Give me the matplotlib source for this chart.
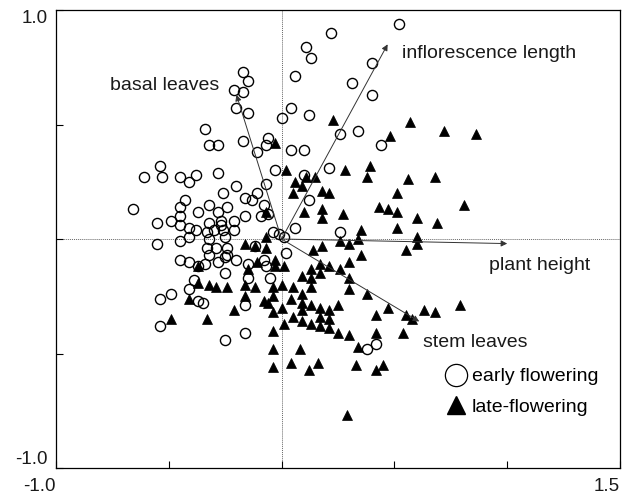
import matplotlib
matplotlib.use("Agg")
import matplotlib.pyplot as plt
from matplotlib.lines import Line2D

plt.rcParams['font.family'] = ['Liberation Sans', 'DejaVu Sans']

# early flowering plants (open circles), PCA scores
early_x = [0.22, 0.11, 0.13, 0.06, -0.17, -0.15, -0.21, -0.17, -0.20, -0.15, 0.04, 0.00, 0.12,
           -0.17, -0.06, -0.07, -0.11, 0.04, 0.10, 0.52, 0.40, 0.31, 0.40, 0.26, 0.34, 0.44,
           -0.34, -0.32, -0.28, -0.54, -0.61, -0.53, -0.45, -0.38, -0.41, -0.28, -0.26, -0.43,
           -0.45, -0.32, -0.37, -0.28, -0.66, -0.45, -0.49, -0.55, -0.32, -0.27, -0.41, -0.45,
           -0.38, -0.33, -0.30, -0.26, -0.55, -0.45, -0.41, -0.32, -0.33, -0.29, -0.32, -0.45,
           -0.41, -0.34, -0.28, -0.37, -0.39, -0.25, -0.03, 0.10, 0.21, -0.20, -0.07, -0.11,
           -0.16, -0.13, 0.12, -0.08, -0.24, -0.16, -0.09, -0.06, -0.21, -0.27, 0.06, -0.21,
           -0.04, -0.01, 0.01, -0.25, -0.12, -0.24, 0.02, -0.24, -0.20, -0.25, -0.08, -0.15,
           -0.07, -0.05, -0.15, 0.26, -0.49, -0.54, -0.41, -0.37, -0.35, -0.54, -0.25, -0.16,
           -0.16, 0.38, 0.42]
early_y = [0.90, 0.84, 0.79, 0.71, 0.73, 0.69, 0.65, 0.64, 0.57, 0.55, 0.57, 0.53, 0.54,
           0.43, 0.44, 0.41, 0.38, 0.39, 0.39, 0.94, 0.77, 0.68, 0.63, 0.46, 0.47, 0.41,
           0.48, 0.41, 0.41, 0.32, 0.27, 0.27, 0.27, 0.28, 0.25, 0.29, 0.20, 0.17,
           0.14, 0.15, 0.12, 0.12, 0.13, 0.10, 0.08, 0.07, 0.07, 0.08, 0.05, 0.06,
           0.04, 0.03, 0.04, 0.04, -0.02, -0.01, 0.01, 0.00, -0.04, -0.04, -0.07, -0.09,
           -0.10, -0.11, -0.10, -0.12, -0.18, -0.15, 0.30, 0.28, 0.31, 0.23, 0.24, 0.20,
           0.18, 0.17, 0.17, 0.15, 0.14, 0.10, 0.10, 0.11, 0.08, 0.06, 0.05, 0.04,
           0.03, 0.02, 0.01, 0.01, -0.03, -0.04, -0.06, -0.07, -0.09, -0.08, -0.09, -0.11,
           -0.12, -0.17, -0.17, 0.03, -0.24, -0.26, -0.22, -0.27, -0.28, -0.38, -0.44, -0.29,
           -0.41, -0.48, -0.46]

# late flowering plants (filled triangles)
late_x = [-0.03, 0.23, 0.57, 0.48, 0.72, 0.86, 0.02, 0.11, 0.15, 0.06, 0.09, 0.05, 0.18,
          0.21, 0.10, 0.18, 0.18, -0.07, -0.07, -0.16, -0.12, -0.07, 0.18, 0.14, -0.03,
          -0.11, -0.03, 0.01, 0.17, 0.21, 0.13, 0.17, -0.15, 0.39, 0.28, 0.38, 0.56, 0.68,
          0.51, 0.27, 0.43, 0.47, 0.51, 0.60, 0.69, 0.51, 0.35, 0.26, 0.30, 0.34, 0.60,
          0.60, 0.55, 0.35, 0.30, 0.26, 0.30, 0.81, -0.49, -0.33, -0.41, -0.37, -0.37,
          -0.32, -0.29, -0.24, -0.16, -0.12, -0.04, 0.00, 0.05, 0.09, 0.09, 0.13, 0.13,
          -0.16, -0.08, -0.04, -0.06, -0.21, -0.04, 0.00, 0.04, 0.09, 0.13, 0.17, 0.21,
          0.09, 0.05, 0.09, 0.13, 0.17, 0.17, 0.21, 0.21, 0.01, -0.04, -0.04, 0.08, -0.04,
          0.04, 0.12, 0.16, 0.30, 0.38, 0.25, 0.25, 0.30, 0.34, 0.42, 0.47, 0.55, 0.58,
          0.63, 0.68, 0.42, 0.54, 0.33, 0.42, 0.45, 0.29, 0.79]
late_y = [0.42, 0.52, 0.51, 0.45, 0.47, 0.46, 0.30, 0.27, 0.27, 0.25, 0.23, 0.20, 0.21,
          0.20, 0.12, 0.13, 0.09, 0.12, 0.01, -0.02, -0.03, -0.04, -0.03, -0.05, -0.09,
          -0.10, -0.12, -0.12, -0.11, -0.12, -0.13, -0.15, -0.13, 0.32, 0.30, 0.27, 0.26, 0.27,
          0.20, 0.11, 0.14, 0.13, 0.12, 0.09, 0.07, 0.05, 0.04, -0.01, -0.02, 0.00, 0.01,
          -0.02, -0.05, -0.07, -0.10, -0.13, -0.17, 0.15, -0.35, -0.35, -0.26, -0.19, -0.12,
          -0.20, -0.21, -0.21, -0.20, -0.21, -0.21, -0.20, -0.21, -0.16, -0.24, -0.17, -0.21,
          -0.25, -0.27, -0.25, -0.28, -0.31, -0.32, -0.30, -0.26, -0.28, -0.29, -0.30, -0.31,
          -0.31, -0.34, -0.36, -0.37, -0.34, -0.38, -0.35, -0.39, -0.37, -0.40, -0.48, -0.48, -0.56,
          -0.54, -0.57, -0.54, -0.22, -0.24, -0.29, -0.41, -0.42, -0.47, -0.33, -0.30, -0.33, -0.35,
          -0.31, -0.32, -0.41, -0.41, -0.55, -0.57, -0.55, -0.77, -0.29]

# variable loadings (arrows) and their label positions
var_names = ['basal leaves', 'inflorescence length', 'plant height', 'stem leaves']
var_x = [-0.20, 0.47, 1.00, 0.61]
var_y = [0.63, 0.85, -0.02, -0.36]
lab_x = [-0.52, 0.92, 1.145, 0.86]
lab_y = [0.67, 0.81, -0.115, -0.45]

xticks = [-1.0, -0.5, 0.0, 0.5, 1.0, 1.5]
xtick_labels = ['-1.0', '', '', '', '', '1.5']
yticks = [-1.0, -0.5, 0.0, 0.5, 1.0]
ytick_labels = ['-1.0', '', '', '', '1.0']

fig = plt.figure(figsize=(6.24, 4.95), dpi=100)
ax = fig.add_axes([0.0897, 0.0545, 0.9039, 0.9253])

ax.axhline(0, color='#666666', lw=0.7, ls=(0, (1, 1)), zorder=1)
ax.axvline(0, color='#666666', lw=0.7, ls=(0, (1, 1)), zorder=1)

ax.plot(early_x, early_y, 'o', ms=7.3, mfc='none', mec='black', mew=1.0, zorder=3)
ax.plot(late_x, late_y, '^', ms=7.8, mfc='black', mec='black', mew=0.5, zorder=4)

for name, vx, vy, lx, ly in zip(var_names, var_x, var_y, lab_x, lab_y):
    ax.annotate('', xy=(vx, vy), xytext=(0, 0),
                arrowprops=dict(arrowstyle='-|>', color='#333333', lw=0.7,
                                mutation_scale=9, shrinkA=0, shrinkB=0),
                zorder=5)
    ax.text(lx, ly, name, ha='center', va='center', fontsize=14, color='#1a1a1a')

ax.set_xlim(-1.0, 1.5)
ax.set_ylim(-1.0, 1.0)
ax.set_xticks(xticks)
ax.set_xticklabels(xtick_labels)
ax.set_yticks(yticks)
ax.set_yticklabels(ytick_labels)
ax.tick_params(direction='in', length=5, width=0.8, labelsize=13.5, pad=6,
               labelcolor='#1a1a1a')
ax.tick_params(axis='x', pad=7)
for lbl in ax.get_xticklabels():
    lbl.set_horizontalalignment('right')
ylbls = ax.get_yticklabels()
ylbls[0].set_verticalalignment('bottom')
ylbls[-1].set_verticalalignment('top')
for sp in ax.spines.values():
    sp.set_linewidth(0.9)

handles = [Line2D([], [], ls='none', marker='o', ms=16, mfc='none', mec='black', mew=0.9),
           Line2D([], [], ls='none', marker='^', ms=12.5, mfc='black', mec='black')]
ax.legend(handles, ['early flowering', 'late-flowering'], loc='upper left',
          bbox_to_anchor=(0.672, 0.24), frameon=False, fontsize=14,
          handletextpad=0.2, handlelength=1.2, labelspacing=0.65, borderpad=0)

fig.savefig('out.png', dpi=100)
